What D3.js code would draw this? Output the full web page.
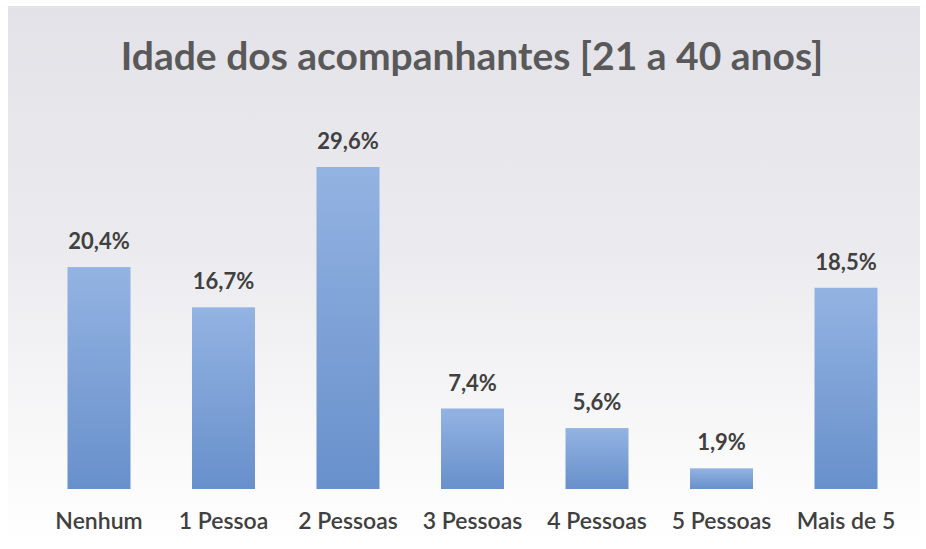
<!DOCTYPE html>
<html>
<head>
<meta charset="utf-8">
<script src="https://cdn.jsdelivr.net/npm/d3@7/dist/d3.min.js"></script>
<style>
  html, body { margin: 0; padding: 0; background: #ffffff; }
  svg { display: block; }
</style>
</head>
<body>
<svg id="chart" width="926" height="549"></svg>
<script>
// Companions per visitor, age group 21–40 years (percent)
const categories = ["Nenhum", "1 Pessoa", "2 Pessoas", "3 Pessoas", "4 Pessoas", "5 Pessoas", "Mais de 5"];
const values = [20.4, 16.7, 29.6, 7.4, 5.6, 1.9, 18.5];
const valueLabels = ["20,4%", "16,7%", "29,6%", "7,4%", "5,6%", "1,9%", "18,5%"];
const title = "Idade dos acompanhantes [21 a 40 anos]";

const W = 926, H = 549;
const svg = d3.select("#chart");
const defs = svg.append("defs");

// Chart area background: soft grey at the top fading to white at the bottom
const bg = defs.append("linearGradient").attr("id", "bgGrad")
  .attr("x1", 0).attr("y1", 0).attr("x2", 0).attr("y2", 1);
bg.append("stop").attr("offset", "0%").attr("stop-color", "#e2e2e8");
bg.append("stop").attr("offset", "45%").attr("stop-color", "#ebebef");
bg.append("stop").attr("offset", "80%").attr("stop-color", "#f8f8f9");
bg.append("stop").attr("offset", "100%").attr("stop-color", "#ffffff");

// Bar fill: lighter blue at the top, deeper blue at the base
const barGrad = defs.append("linearGradient").attr("id", "barGrad")
  .attr("x1", 0).attr("y1", 0).attr("x2", 0).attr("y2", 1);
barGrad.append("stop").attr("offset", "0%").attr("stop-color", "#93b3e2");
barGrad.append("stop").attr("offset", "100%").attr("stop-color", "#6890cb");

svg.append("rect")
  .attr("x", 8).attr("y", 6).attr("width", W - 14).attr("height", H - 10)
  .attr("fill", "url(#bgGrad)");

const baseline = 489;
const x = d3.scaleBand().domain(categories).range([36.75, 908.25]).padding(0);
const y = d3.scaleLinear().domain([0, 29.6]).range([baseline, 167]);
const barW = 63;

const g = svg.append("g");

g.selectAll("rect.bar")
  .data(values)
  .join("rect")
  .attr("class", "bar")
  .attr("x", (d, i) => x(categories[i]) + x.bandwidth() / 2 - barW / 2)
  .attr("y", d => y(d))
  .attr("width", barW)
  .attr("height", d => baseline - y(d))
  .attr("fill", "url(#barGrad)");

const fontFam = "Lato, 'Open Sans', 'Noto Sans', sans-serif";

// Value labels above bars
g.selectAll("text.val")
  .data(values)
  .join("text")
  .attr("class", "val")
  .attr("x", (d, i) => x(categories[i]) + x.bandwidth() / 2)
  .attr("y", d => y(d) - 18)
  .attr("text-anchor", "middle")
  .attr("font-family", fontFam)
  .attr("font-weight", "bold")
  .attr("font-size", 22)
  .attr("fill", "#404040")
  .text((d, i) => valueLabels[i]);

// Category axis labels
const xAxis = d3.axisBottom(x).tickSize(0).tickPadding(0);
const axisG = svg.append("g")
  .attr("transform", `translate(0, ${baseline + 23})`)
  .call(xAxis);
axisG.select(".domain").remove();
axisG.selectAll("text")
  .attr("dy", "0.72em")
  .attr("font-family", fontFam)
  .attr("font-weight", "600")
  .attr("font-size", 23)
  .attr("fill", "#404040");

// Title
svg.append("text")
  .attr("x", 472)
  .attr("y", 70)
  .attr("text-anchor", "middle")
  .attr("font-family", fontFam)
  .attr("font-weight", "bold")
  .attr("font-size", 39)
  .attr("fill", "#595959")
  .text(title);
</script>
</body>
</html>
